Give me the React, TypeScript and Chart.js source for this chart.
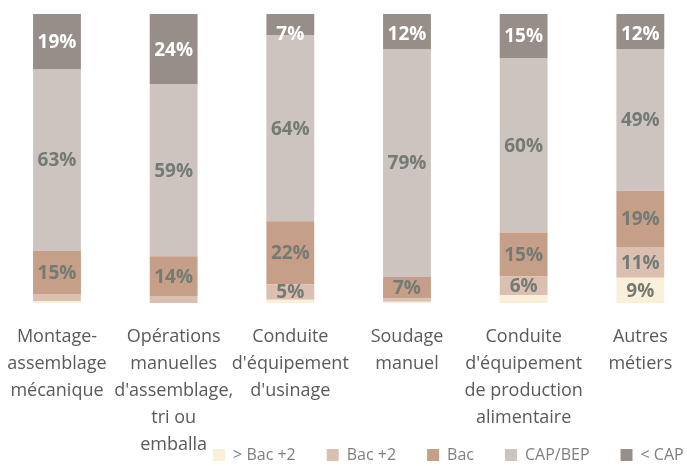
import React, { useEffect, useRef } from "react";
import { Chart, registerables } from "chart.js";

Chart.register(...registerables);

const categories: string[][] = [
  ["Montage-", "assemblage", "mécanique"],
  ["Opérations", "manuelles", "d'assemblage,", "tri ou", "emballa"],
  ["Conduite", "d'équipement", "d'usinage"],
  ["Soudage", "manuel"],
  ["Conduite", "d'équipement", "de production", "alimentaire"],
  ["Autres", "métiers"],
];

const seriesNames = ["> Bac +2", "Bac +2", "Bac", "CAP/BEP", "< CAP"];

const aboveBac2 = [0.7, 0, 1.1, 0.4, 2.8, 8.7];
const bac2 = [2.4, 2.4, 5.4, 1.2, 6.4, 10.7];
const bac = [14.9, 13.8, 21.8, 7.4, 15.2, 19.4];
const capBep = [63.0, 59.4, 64.4, 78.9, 60.4, 49.1];
const belowCap = [19.0, 24.4, 7.3, 12.1, 15.2, 12.1];

const seriesColors = ["#faf0da", "#dbbfb1", "#c59f88", "#cdc4bf", "#988e89"];

const FONT = "'Open Sans', 'Noto Sans', sans-serif";

const segmentLabels = {
  id: "segmentLabels",
  afterDatasetsDraw(chart: any) {
    const ctx = chart.ctx;
    const top = chart.chartArea.top;
    ctx.save();
    ctx.font = `bold 19px ${FONT}`;
    ctx.textAlign = "center";
    ctx.textBaseline = "middle";
    chart.data.datasets.forEach((ds: any, di: number) => {
      const meta = chart.getDatasetMeta(di);
      meta.data.forEach((el: any, i: number) => {
        const v = ds.data[i];
        if (v < 4) return;
        const p = el.getProps(["x", "y", "base"], true);
        let cy = (p.y + p.base) / 2;
        cy = Math.max(cy, top + 20);
        ctx.fillStyle = di === 4 ? "#ffffff" : "#747a74";
        ctx.fillText(Math.round(v) + "%", p.x, cy + 1);
      });
    });
    ctx.restore();
  },
};

const layoutTweak = {
  id: "layoutTweak",
  afterLayout(chart: any) {
    const l = chart.legend;
    if (l) {
      l.left += 16;
      l.right += 16;
    }
    const xs = chart.scales.x;
    if (xs) {
      xs.bottom = chart.height;
      xs.height = xs.bottom - xs.top;
    }
  },
};

export default function App() {
  const ref = useRef<HTMLCanvasElement>(null);

  useEffect(() => {
    if (!ref.current) return;
    const series = [aboveBac2, bac2, bac, capBep, belowCap];
    const chart = new Chart(ref.current, {
      type: "bar",
      data: {
        labels: categories,
        datasets: series.map((d, i) => ({
          label: seriesNames[i],
          data: d,
          backgroundColor: seriesColors[i],
          borderWidth: 0,
          categoryPercentage: 0.41,
          barPercentage: 1,
        })),
      },
      options: {
        responsive: false,
        animation: false,
        devicePixelRatio: 1,
        events: [],
        layout: { padding: { left: 28.65, right: 1.35, top: 14, bottom: 0 } },
        plugins: {
          tooltip: { enabled: false },
          legend: {
            position: "bottom",
            align: "end",
            labels: {
              boxWidth: 12,
              boxHeight: 12,
              padding: 31,
              color: "#7f7f7f",
              font: { family: FONT, size: 16 },
            },
          },
        },
        scales: {
          x: {
            stacked: true,
            grid: { display: false, drawTicks: false },
            border: { display: false },
            ticks: {
              autoSkip: false,
              maxRotation: 0,
              minRotation: 0,
              padding: 20,
              color: "#5a5a5a",
              font: { family: FONT, size: 18, lineHeight: 1.5 },
            },
            afterFit(scale: any) {
              scale.height = 113;
            },
          },
          y: {
            stacked: true,
            display: false,
            min: 0,
            max: 100,
          },
        },
      },
      plugins: [segmentLabels, layoutTweak],
    } as any);
    return () => chart.destroy();
  }, []);

  return (
    <canvas
      ref={ref}
      width={730}
      height={473}
      style={{ position: "fixed", left: -30, top: 0, width: 730, height: 473 }}
    />
  );
}
